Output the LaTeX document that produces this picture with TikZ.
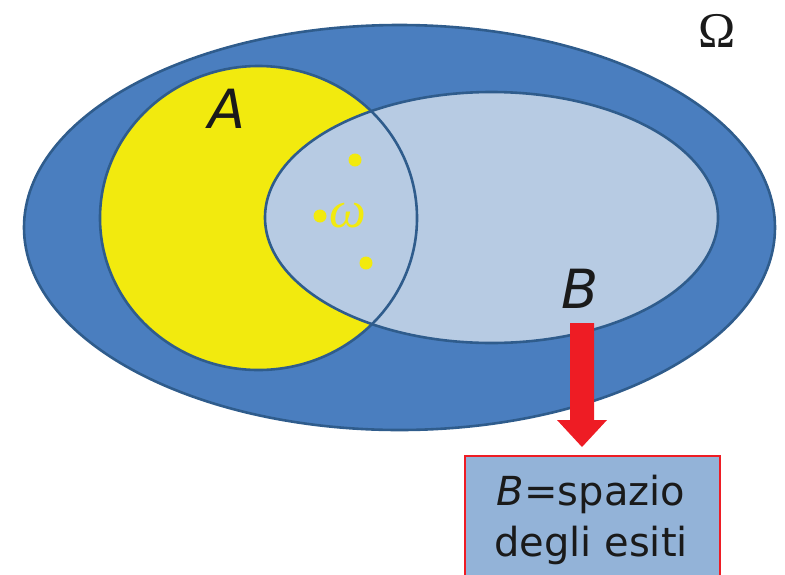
\documentclass[tikz,border=0pt]{standalone}
\usepackage{fontspec}
\setmainfont{DejaVu Sans}
\newfontfamily\serifgreek{Liberation Serif}
\begin{document}
\begin{tikzpicture}[x=1pt,y=-1pt,
  setline/.style={draw=setedge,line width=2.6pt},
  biglabel/.style={font=\fontsize{54}{54}\selectfont\itshape,text=labeltext,inner sep=0pt},
  outcome/.style={circle,fill=dotyellow,inner sep=0pt,minimum size=13pt}]
\definecolor{omegablue}{HTML}{4A7EBF}
\definecolor{setedge}{HTML}{2F5C8C}
\definecolor{ayellow}{HTML}{F2EA0E}
\definecolor{blight}{HTML}{B7CBE3}
\definecolor{dotyellow}{HTML}{F2EA0E}
\definecolor{labeltext}{HTML}{1A1A1A}
\definecolor{arrowred}{HTML}{EE1C24}
\definecolor{boxblue}{HTML}{93B3D8}
\useasboundingbox (0,0) rectangle (785,574);
% sample space
\fill[omegablue] (399.5,227.5) ellipse [x radius=375.5,y radius=202.5];
\draw[setline] (399.5,227.5) ellipse [x radius=375.5,y radius=202.5];
% event A
\fill[ayellow] (258.5,218) ellipse [x radius=158.5,y radius=152];
% event B
\fill[blight] (491.5,217.5) ellipse [x radius=226.5,y radius=125.5];
\draw[setline] (491.5,217.5) ellipse [x radius=226.5,y radius=125.5];
\draw[setline] (258.5,218) ellipse [x radius=158.5,y radius=152];
% outcomes
\node[outcome] (o1) at (355,160) {};
\node[outcome] (o2) at (320,216) {};
\node[outcome] (o3) at (366,263) {};
\node[text=dotyellow,inner sep=0pt,font=\fontsize{52}{52}\selectfont\serifgreek\itshape] (w) at (348,216) {ω};
% labels
\node[biglabel] (la) at (227,109) {A};
\node[biglabel] (lb) at (580,289) {B};
\node[inner sep=0pt,text=labeltext,font=\fontsize{50}{50}\selectfont\serifgreek] (om) at (717,31) {Ω};
% result box
\node[draw=arrowred,line width=2pt,fill=boxblue,minimum width=255pt,minimum height=130pt,anchor=north west] (box) at (464,455) {};
\node[align=center,font=\fontsize{40}{51}\selectfont,text=labeltext,anchor=base,inner sep=0pt] (txt) at (591,556) {\textit{B}=spazio\\degli esiti};
% arrow from B down to the box
\coordinate (ast) at (582,323);
\coordinate (aend) at (582,447);
\fill[arrowred] (570,323) -- (594,323) -- (594,420) -- (607,420) -- (aend) -- (557,420) -- (570,420) -- cycle;
\end{tikzpicture}
\end{document}
